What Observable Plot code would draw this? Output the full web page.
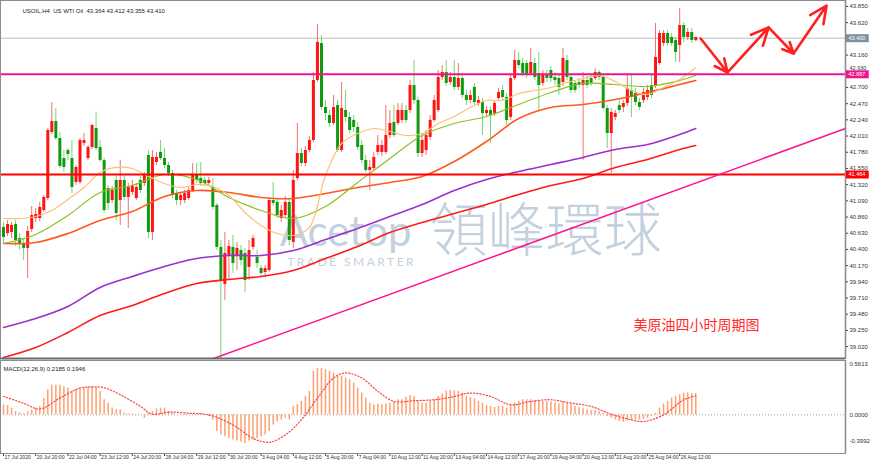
<!DOCTYPE html>
<html><head><meta charset="utf-8">
<script src="https://cdn.jsdelivr.net/npm/d3@7"></script>
<script src="https://cdn.jsdelivr.net/npm/@observablehq/plot@0.6"></script>
<style>
html,body{margin:0;padding:0;background:#fff;}
#chart{width:870px;height:467px;position:relative;overflow:hidden;background:#fff;}
#chart svg{display:block;}
</style></head><body><div id="chart"></div>
<script>
// ---------- DATA (H4 bars, index 0 = 17 Jul 2020 00:00) ----------
const open = [40.712,40.626,40.641,40.754,40.555,40.484,40.414,40.683,40.839,40.839,
40.953,41.123,42.061,42.217,41.975,41.691,41.805,41.691,41.351,41.351,
41.904,41.691,41.848,42.117,41.848,41.663,41.265,41.095,41.379,41.095,
41.379,41.138,41.209,41.123,41.379,41.336,41.734,40.641,41.635,41.777,
41.691,41.592,41.478,41.194,41.095,41.095,41.123,41.237,41.450,41.407,
41.379,41.336,41.280,41.024,40.428,39.902,40.300,40.428,40.314,40.385,
40.343,40.144,40.428,40.286,40.129,40.073,40.101,41.095,41.067,40.839,
40.882,41.067,40.499,41.407,41.762,41.620,41.805,41.947,42.799,43.324,
42.416,42.302,42.188,42.444,41.805,42.373,42.274,42.231,42.132,41.876,
41.663,41.521,41.549,41.777,41.777,41.777,42.018,42.203,42.188,42.231,
42.373,42.373,42.728,42.515,41.762,41.805,41.990,42.231,42.373,42.842,
42.913,42.771,42.842,42.700,42.827,42.586,42.515,42.700,42.472,42.487,
42.330,42.373,42.330,42.543,42.657,42.558,42.274,42.827,43.083,43.040,
43.040,42.898,43.040,42.898,42.757,42.870,42.941,42.842,42.827,42.771,
43.083,42.842,42.757,42.771,42.728,42.799,42.827,42.827,42.913,42.842,
42.401,42.046,42.274,42.444,42.416,42.472,42.657,42.614,42.487,42.515,
42.558,42.728,42.728,43.040,43.324,43.466,43.410,43.367,43.296,43.580,
43.410,43.481,43.364];
const high = [40.783,40.811,40.783,40.811,40.626,40.555,40.726,41.010,40.981,41.067,
41.166,42.117,42.487,42.401,42.061,41.805,41.833,41.947,41.592,41.975,
42.046,41.876,42.174,42.345,41.947,41.691,41.308,41.294,41.436,41.663,
41.436,41.336,41.379,41.336,41.436,41.493,41.805,41.805,41.777,41.947,
41.833,41.635,41.521,41.237,41.209,41.237,41.280,41.620,41.620,41.635,
41.422,41.422,41.407,41.052,40.527,40.641,40.527,40.598,40.499,40.456,
40.414,40.527,40.598,40.385,40.172,40.172,41.123,41.351,41.123,41.024,
41.152,41.123,41.521,42.188,41.833,41.862,42.004,42.913,43.594,43.438,
42.515,42.373,42.586,42.515,42.771,42.657,42.345,42.302,42.203,41.947,
41.734,41.663,41.777,42.018,41.947,42.444,42.373,42.444,42.472,42.472,
42.444,42.799,43.083,42.558,42.046,42.089,42.302,42.586,42.941,43.012,
43.083,42.913,43.083,43.040,42.898,42.657,42.657,42.757,42.572,42.543,
42.430,42.430,42.515,42.686,42.728,42.614,42.870,43.225,43.197,43.111,
43.083,43.253,43.111,43.197,42.941,42.941,42.998,42.913,42.870,43.253,
43.154,42.870,42.799,42.827,42.913,42.856,42.870,42.969,42.941,42.870,
42.444,42.401,42.373,42.515,42.515,42.870,42.870,42.686,42.543,42.686,
42.728,42.870,43.608,43.509,43.509,43.509,43.466,43.410,43.821,43.623,
43.537,43.537,43.412];
const low = [40.484,40.584,40.555,40.442,40.385,40.243,39.987,40.641,40.783,40.797,
40.925,41.095,42.032,41.947,41.549,41.493,41.663,41.194,41.308,41.322,
41.862,41.663,41.819,41.805,41.635,40.910,40.953,41.052,40.811,40.740,
41.095,40.697,41.166,41.095,41.194,41.294,40.555,40.527,41.592,41.663,
41.549,41.436,41.123,41.024,41.024,41.052,41.095,41.209,41.336,41.294,
41.294,41.294,40.953,40.385,38.851,39.675,39.959,40.058,40.101,40.172,
39.789,39.959,40.385,40.129,40.016,40.002,40.073,41.010,40.839,40.783,
40.839,40.456,40.414,41.379,41.578,41.578,41.777,41.919,42.771,42.373,
42.231,42.132,42.160,41.777,41.777,42.203,42.046,42.061,41.805,41.620,
41.493,41.237,41.507,41.734,41.720,41.748,41.975,41.990,42.160,42.188,
42.188,42.330,42.458,41.706,41.706,41.734,41.947,42.203,42.345,42.799,
42.714,42.728,42.657,42.657,42.543,42.444,42.472,42.444,42.430,42.018,
42.288,41.904,42.288,42.501,42.515,42.160,42.231,42.799,42.969,42.856,
42.827,42.870,42.799,42.373,42.714,42.771,42.771,42.728,42.586,42.714,
42.799,42.614,42.614,42.686,41.663,42.686,42.714,42.799,42.799,42.373,
41.833,41.478,42.231,42.330,42.345,42.430,42.274,42.444,42.373,42.472,
42.515,42.543,42.686,43.012,43.282,43.282,43.282,43.055,43.055,43.339,
43.367,43.324,43.355];
const close = [40.570,40.754,40.740,40.527,40.484,40.414,40.655,40.882,40.896,40.996,
41.138,42.089,42.217,41.975,41.578,41.564,41.748,41.280,41.564,41.947,
41.947,41.848,42.160,41.833,41.663,40.953,41.052,41.237,40.910,41.379,
41.138,41.280,41.308,41.280,41.237,41.450,40.641,41.706,41.706,41.691,
41.592,41.478,41.166,41.095,41.166,41.194,41.237,41.450,41.379,41.336,
41.336,41.379,40.996,40.428,39.959,40.343,40.442,40.200,40.414,40.243,
39.959,40.385,40.555,40.200,40.058,40.129,41.095,41.052,40.882,40.953,
41.067,40.527,41.379,41.762,41.620,41.805,41.947,42.799,43.339,42.416,
42.330,42.188,42.416,41.805,42.401,42.274,42.089,42.132,41.848,41.663,
41.521,41.564,41.706,41.876,41.876,42.018,42.188,42.018,42.373,42.373,
42.231,42.728,42.515,41.762,41.947,42.018,42.231,42.515,42.842,42.913,
42.757,42.842,42.700,42.827,42.586,42.515,42.586,42.487,42.515,42.330,
42.373,42.302,42.472,42.629,42.558,42.231,42.827,43.083,43.012,42.898,
42.870,43.055,42.842,42.728,42.870,42.827,42.827,42.799,42.700,43.111,
42.842,42.657,42.657,42.728,42.799,42.728,42.757,42.913,42.842,42.401,
42.046,42.345,42.330,42.373,42.472,42.686,42.558,42.487,42.416,42.629,
42.657,42.586,43.126,43.466,43.466,43.324,43.324,43.197,43.580,43.410,
43.481,43.367,43.410];

// moving averages, read at bar indices
const maIdx = [0,8,16,24,32,40,48,56,64,72,80,88,96,104,112,120,128,136,144,152,160,168,172];
const maPurple = [39.292,39.419,39.590,39.860,40.016,40.158,40.271,40.314,40.314,40.385,40.541,40.697,40.868,41.038,41.237,41.393,41.507,41.606,41.706,41.819,41.890,42.032,42.117];
const maRed = [38.866,39.008,39.221,39.462,39.604,39.775,39.916,39.973,40.016,40.101,40.271,40.442,40.641,40.783,40.910,41.038,41.180,41.308,41.407,41.564,41.677,41.819,41.876];
const maOrange = [40.484,40.499,40.626,40.811,40.939,41.152,41.237,41.209,41.138,41.123,41.194,41.280,41.351,41.436,41.649,41.933,42.259,42.416,42.458,42.529,42.629,42.742,42.799];
const maGreen = [40.484,40.612,40.882,41.209,41.308,41.464,41.393,41.138,40.953,40.839,41.010,41.351,41.691,42.018,42.188,42.288,42.458,42.629,42.757,42.742,42.714,42.799,42.870];
const fastIdx = [0,4,8,12,16,20,24,28,32,36,40,44,48,52,56,60,64,68,72,76,80,84,88,92,96,100,104,108,112,116,120,124,128,132,136,140,144,148,152,156,160,164,168,172];
const maFast = [40.839,40.839,40.868,40.953,41.109,41.280,41.493,41.564,41.549,41.436,41.336,41.280,41.322,41.294,41.166,40.925,40.740,40.626,40.598,40.712,41.450,41.904,42.046,42.117,42.075,42.018,42.046,42.188,42.288,42.416,42.515,42.515,42.614,42.657,42.700,42.771,42.827,42.870,42.785,42.657,42.600,42.700,42.813,42.984];

// drawn objects
const levelBid = 43.400, levelMagenta = 42.887, levelRed = 41.464;
const trendI = [52.2, 209.2];
const trendP = [38.851, 42.117];
const fcI = [173.2, 179.9, 190.1, 196.3, 204.5];
const fcP = [43.395, 42.913, 43.552, 43.182, 43.864];

// MACD(12,26,9)
const macd = [0.104,0.097,0.070,0.035,0.020,0.010,0.030,0.050,0.070,0.087,
0.170,0.260,0.305,0.305,0.305,0.290,0.277,0.240,0.260,0.277,
0.277,0.290,0.290,0.277,0.240,0.156,0.120,0.070,0.052,0.052,
0.017,0.010,0.010,0.002,0.002,-0.035,0.017,0.035,0.062,0.070,
0.070,0.035,0.017,0.002,-0.007,-0.007,-0.002,0.005,0.005,-0.002,
-0.007,-0.017,-0.052,-0.173,-0.208,-0.225,-0.243,-0.260,-0.270,-0.284,
-0.295,-0.270,-0.260,-0.243,-0.225,-0.208,-0.173,-0.104,-0.070,-0.052,
-0.035,-0.052,0.087,0.104,0.139,0.190,0.243,0.450,0.478,0.478,
0.468,0.450,0.433,0.398,0.398,0.381,0.364,0.329,0.277,0.225,
0.173,0.121,0.104,0.111,0.104,0.111,0.121,0.139,0.156,0.156,
0.180,0.200,0.190,0.139,0.121,0.121,0.139,0.156,0.190,0.215,
0.243,0.250,0.250,0.243,0.225,0.190,0.180,0.166,0.139,0.121,
0.097,0.087,0.076,0.087,0.087,0.069,0.104,0.121,0.139,0.156,
0.156,0.156,0.146,0.139,0.139,0.139,0.132,0.121,0.111,0.132,
0.121,0.104,0.087,0.076,0.062,0.052,0.042,0.042,0.035,0.017,
-0.017,-0.035,-0.052,-0.069,-0.076,-0.062,-0.055,-0.052,-0.052,-0.045,
-0.035,-0.017,0.017,0.069,0.111,0.139,0.173,0.190,0.208,0.225,
0.225,0.218,0.2185];
const sigIdx = [0,5,9,14,19,22,25,29,34,37,41,46,51,57,62,66,70,74,78,82,85,89,93,97,102,107,111,116,121,126,131,136,141,146,151,156,159,164,169,172];
const sigVal = [0.19,0.12,0.06,0.173,0.277,0.288,0.28,0.208,0.087,0.007,0.028,0.017,0,-0.104,-0.243,-0.284,-0.208,-0.052,0.173,0.381,0.433,0.381,0.243,0.139,0.146,0.156,0.18,0.225,0.19,0.104,0.139,0.156,0.121,0.087,0.007,-0.052,-0.069,0,0.156,0.1946];

// axes
const priceTicks = [43.850,43.620,43.160,42.700,42.470,42.240,42.010,41.780,41.550,41.320,41.090,40.860,40.630,40.400,40.170,39.940,39.710,39.480,39.250,39.020];
const priceTickNearBox = [42.930];
const timeIdx = [0,8,16,24,32,40,48,56,64,72,80,88,96,104,112,120,128,136,144,152,160,168];
const timeLabels = ["17 Jul 2020","20 Jul 20:00","22 Jul 04:00","23 Jul 12:00","24 Jul 20:00","28 Jul 04:00","29 Jul 12:00","30 Jul 20:00","3 Aug 04:00","4 Aug 12:00","5 Aug 20:00","7 Aug 04:00","10 Aug 12:00","11 Aug 20:00","13 Aug 04:00","14 Aug 12:00","17 Aug 20:00","19 Aug 04:00","20 Aug 12:00","21 Aug 20:00","25 Aug 04:00","26 Aug 12:00"];

// ---------- DRAW ----------
const X0 = -0.75, X1 = 209.2;
const FONT = "Liberation Sans, Arial, sans-serif";
const bars = open.map((o, i) => ({i, o, h: high[i], l: low[i], c: close[i], up: close[i] >= o}));
const upBars = bars.filter(d => d.up), dnBars = bars.filter(d => !d.up);
const fcSeg = d3.range(fcI.length - 1);

const main = Plot.plot({
  width: 870, height: 358,
  marginLeft: 0, marginRight: 25, marginTop: 0, marginBottom: 0,
  x: {domain: [X0, X1], axis: null},
  y: {domain: [38.851, 43.935], axis: null},
  style: {fontFamily: FONT, background: "#fff", overflow: "visible"},
  marks: [
    // watermark
    Plot.text(["Acetop"], {x: () => 85, y: () => 40.64, text: d => d, fontSize: 42, fill: "#c3d0de", fontFamily: "Lato"}),
    Plot.text(["領峰環球"], {x: () => 134.7, y: () => 40.64, text: d => d, fontSize: 58, fill: "#c3d0de", fontFamily: "Noto Sans CJK TC", fontWeight: 300}),
    Plot.text(["TRADE SMARTER"], {x: () => 86.5, y: () => 40.215, text: d => d, fontSize: 12, fill: "#c3d0de", fontFamily: "Lato"}),
    // bid line
    Plot.ruleY([levelBid], {stroke: "#b4bcc4", strokeWidth: 1}),
    // candles
    Plot.ruleX(upBars, {x: "i", y1: "l", y2: "h", stroke: "#f37070", strokeWidth: 1}),
    Plot.ruleX(dnBars, {x: "i", y1: "l", y2: "h", stroke: "#72d872", strokeWidth: 1}),
    Plot.ruleX(upBars, {x: "i", y1: "o", y2: "c", stroke: "#ff1414", strokeWidth: 3}),
    Plot.ruleX(dnBars, {x: "i", y1: "o", y2: "c", stroke: "#109a10", strokeWidth: 3}),
    // moving averages
    Plot.line(maIdx, {x: d => d, y: (d, k) => maRed[k], stroke: "#ff1a1a", strokeWidth: 1.6, curve: "catmull-rom"}),
    Plot.line(maIdx, {x: d => d, y: (d, k) => maPurple[k], stroke: "#9b30d0", strokeWidth: 1.6, curve: "catmull-rom"}),
    Plot.line(maIdx, {x: d => d, y: (d, k) => maOrange[k], stroke: "#ff5a1e", strokeWidth: 1.6, curve: "catmull-rom"}),
    Plot.line(maIdx, {x: d => d, y: (d, k) => maGreen[k], stroke: "#8cc020", strokeWidth: 1.2, curve: "catmull-rom"}),
    Plot.line(fastIdx, {x: d => d, y: (d, k) => maFast[k], stroke: "#fcc07a", strokeWidth: 1.2, curve: "catmull-rom"}),
    // horizontal levels and trend line
    Plot.ruleY([levelMagenta], {stroke: "#f0148c", strokeWidth: 2}),
    Plot.ruleY([levelRed], {stroke: "#ff0000", strokeWidth: 2}),
    Plot.line(trendI, {x: d => d, y: (d, k) => trendP[k], stroke: "#ff1493", strokeWidth: 1.5}),
    // forecast arrows
    Plot.arrow(fcSeg, {x1: k => fcI[k], y1: k => fcP[k], x2: k => fcI[k + 1], y2: k => fcP[k + 1], stroke: "#ff2020", strokeWidth: 2.6, headLength: 11, headAngle: 50}),
    // caption
    Plot.text(["美原油四小时周期图"], {x: () => 172.2, y: () => 39.32, text: d => d, fontSize: 14, fill: "#ff2a2a", fontFamily: "Noto Sans CJK SC"}),
    // header
    Plot.text(["USOIL,H4  US WTI Oil  43.364 43.412 43.355 43.410"], {frameAnchor: "top-left", dx: 22, dy: 8, text: d => d, fontSize: 6, fill: "#222", textAnchor: "start"}),
    // right axis
    Plot.ruleX([X1], {stroke: "#7d7d7d", strokeWidth: 1.5}),
    Plot.ruleY(priceTicks.concat(priceTickNearBox), {y: d => d, x1: X1, x2: X1 + 0.75, stroke: "#444"}),
    Plot.text(priceTicks, {y: d => d, frameAnchor: "right", dx: 4, text: d => d.toFixed(3), textAnchor: "start", fontSize: 6, fill: "#333"}),
    Plot.text(priceTickNearBox, {y: d => d, frameAnchor: "right", dx: 4, dy: -3, text: d => d.toFixed(3), textAnchor: "start", fontSize: 5.5, fill: "#333"}),
    Plot.ruleY([levelBid], {x1: X1, x2: X1 + 5.9, stroke: "#7f8fa0", strokeWidth: 8}),
    Plot.ruleY([levelMagenta], {x1: X1, x2: X1 + 5.9, stroke: "#f0148c", strokeWidth: 8}),
    Plot.ruleY([levelRed], {x1: X1, x2: X1 + 5.9, stroke: "#ff0000", strokeWidth: 8}),
    Plot.text([levelBid, levelMagenta, levelRed], {y: d => d, frameAnchor: "right", dx: 3, text: d => d.toFixed(3), textAnchor: "start", fontSize: 5.5, fill: "#fff"}),
    // frame
    Plot.frame({stroke: "#8c8c8c"}),
    Plot.ruleY([38.851], {stroke: "#6a6a6a", strokeWidth: 2})
  ]
});

const macdPlot = Plot.plot({
  width: 870, height: 109,
  marginLeft: 0, marginRight: 25, marginTop: 2, marginBottom: 14,
  x: {domain: [X0, X1], axis: null},
  y: {domain: [-0.3992, 0.5613], axis: null},
  style: {fontFamily: FONT, background: "#fff", overflow: "visible"},
  marks: [
    Plot.ruleY([0], {stroke: "#9aa3ad", strokeDasharray: "1,2"}),
    Plot.ruleX(macd.map((v, i) => i), {x: d => d, y1: 0, y2: d => macd[d], stroke: "#ffa070", strokeWidth: 1.5}),
    Plot.line(sigIdx, {x: d => d, y: (d, k) => sigVal[k], stroke: "#ff4040", strokeWidth: 1.2, strokeDasharray: "1.2,2", curve: "catmull-rom"}),
    Plot.text(["MACD(12,26,9) 0.2185 0.1946"], {frameAnchor: "top-left", dx: 3, dy: 6, text: d => d, fontSize: 6, fill: "#222", textAnchor: "start"}),
    Plot.ruleX([X1], {stroke: "#7d7d7d", strokeWidth: 1.5}),
    Plot.text([0.5613], {y: d => d, frameAnchor: "right", dx: 4, dy: 4, text: d => d.toFixed(4), textAnchor: "start", fontSize: 6, fill: "#333"}),
    Plot.text([0], {y: d => d, frameAnchor: "right", dx: 4, text: d => d.toFixed(4), textAnchor: "start", fontSize: 6, fill: "#333"}),
    Plot.text([-0.3992], {y: d => d, frameAnchor: "right", dx: 4, dy: -12, text: d => d.toFixed(4), textAnchor: "start", fontSize: 6, fill: "#333"}),
    // time axis
    Plot.ruleX(timeIdx, {x: d => d, y1: -0.3992, y2: -0.43, stroke: "#444"}),
    Plot.text(timeIdx, {x: d => d, frameAnchor: "bottom", dy: 5, dx: 1, text: (d, k) => timeLabels[k], textAnchor: "start", fontSize: 5.1, fill: "#333"}),
    Plot.frame({stroke: "#8c8c8c"})
  ]
});

const root = document.getElementById("chart");
root.append(main, macdPlot);
d3.select(main).selectAll("text").filter(function() { return this.textContent === "TRADE SMARTER"; }).style("letter-spacing", "2.5px");
</script>
</body></html>
